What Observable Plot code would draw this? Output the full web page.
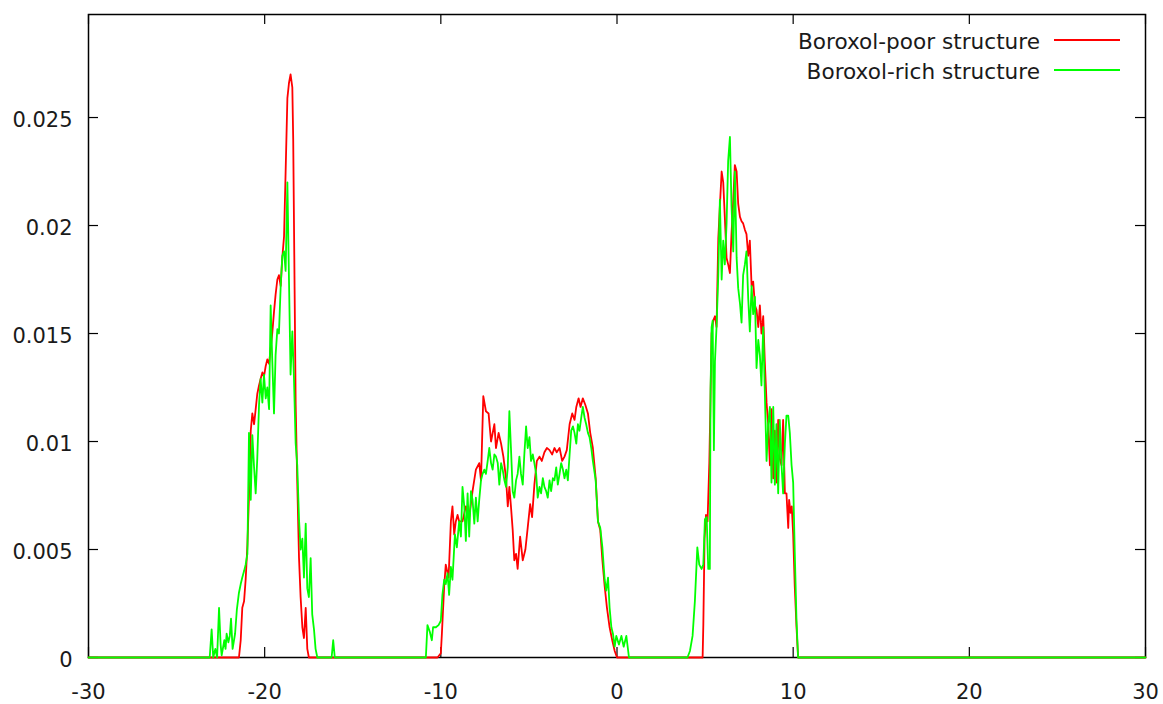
<!DOCTYPE html>
<html>
<head>
<meta charset="utf-8">
<script src="https://cdn.jsdelivr.net/npm/d3@7"></script>
<script src="https://cdn.jsdelivr.net/npm/@observablehq/plot@0.6"></script>
<style>
  html, body { margin: 0; padding: 0; background: #ffffff; }
  #chart svg { display: block; }
</style>
</head>
<body>
<div id="chart"></div>
<script>
// Axis ticks and labels
const xTicks = [-30, -20, -10, 0, 10, 20, 30];
const yTicks = [0, 0.005, 0.01, 0.015, 0.02, 0.025];
const yTickLabels = ["0", "0.005", "0.01", "0.015", "0.02", "0.025"];

// Series names (legend order)
const seriesNames = ["Boroxol-poor structure", "Boroxol-rich structure"];
const seriesColors = ["#ff0000", "#00ff00"];

// Boroxol-poor structure: [x, density] per band
const poorLeft = [
  [-21.46, 0], [-21.36, 0.0008], [-21.27, 0.0023], [-21.17, 0.0026], [-21.08, 0.0036],
  [-20.98, 0.0052], [-20.89, 0.0075], [-20.79, 0.0105], [-20.70, 0.0113], [-20.60, 0.0108],
  [-20.51, 0.0115], [-20.42, 0.0122], [-20.32, 0.0126], [-20.23, 0.0129], [-20.13, 0.0132],
  [-20.04, 0.0130], [-19.94, 0.0135], [-19.85, 0.0138], [-19.75, 0.0136], [-19.66, 0.0143],
  [-19.57, 0.0150], [-19.47, 0.0160], [-19.38, 0.0168], [-19.28, 0.0175], [-19.19, 0.0177],
  [-19.09, 0.0172], [-19.00, 0.0185], [-18.90, 0.0195], [-18.81, 0.0225], [-18.71, 0.0259],
  [-18.62, 0.0266], [-18.53, 0.0270], [-18.43, 0.0264], [-18.38, 0.0240], [-18.30, 0.0170],
  [-18.24, 0.0117], [-18.15, 0.0081], [-18.05, 0.0046], [-17.96, 0.0028], [-17.86, 0.0014],
  [-17.77, 0.0009], [-17.67, 0.0023], [-17.58, 0.0004], [-17.49, 0]
];
const poorMiddle = [
  [-10.19, 0], [-10.00, 0.0002], [-9.94, 0.0011], [-9.81, 0.0033], [-9.72, 0.0043],
  [-9.56, 0.0037], [-9.43, 0.0063], [-9.34, 0.0070], [-9.24, 0.0057], [-9.15, 0.0063],
  [-9.05, 0.0066], [-8.96, 0.0063], [-8.77, 0.0063], [-8.58, 0.0070], [-8.39, 0.0065],
  [-8.20, 0.0077], [-8.01, 0.0087], [-7.82, 0.0090], [-7.72, 0.0082], [-7.59, 0.0121],
  [-7.44, 0.0114], [-7.29, 0.0113], [-7.15, 0.0100], [-6.96, 0.0108], [-6.87, 0.0097],
  [-6.72, 0.0104], [-6.58, 0.0099], [-6.45, 0.0093], [-6.30, 0.0083], [-6.20, 0.0070],
  [-6.11, 0.0079], [-6.02, 0.0070], [-5.92, 0.0059], [-5.83, 0.0045], [-5.73, 0.0048],
  [-5.64, 0.0041], [-5.50, 0.0056], [-5.35, 0.0045], [-5.20, 0.0050], [-5.07, 0.0060],
  [-4.93, 0.0071], [-4.82, 0.0065], [-4.69, 0.0080], [-4.55, 0.0091], [-4.40, 0.0093],
  [-4.27, 0.0091], [-4.12, 0.0095], [-3.98, 0.0097], [-3.83, 0.0096], [-3.68, 0.0094],
  [-3.55, 0.0097], [-3.42, 0.0095], [-3.26, 0.0097], [-3.11, 0.0091], [-2.98, 0.0093],
  [-2.85, 0.0096], [-2.69, 0.0108], [-2.54, 0.0113], [-2.41, 0.0110], [-2.31, 0.0116],
  [-2.18, 0.0120], [-2.07, 0.0116], [-1.94, 0.0120], [-1.80, 0.0117], [-1.65, 0.0113],
  [-1.52, 0.0104], [-1.37, 0.0097], [-1.21, 0.0083], [-1.08, 0.0063], [-0.95, 0.0059],
  [-0.83, 0.0045], [-0.70, 0.0033], [-0.57, 0.0023], [-0.42, 0.0014], [-0.27, 0.0008],
  [-0.13, 0.0003], [0.00, 0]
];
const poorRight = [
  [4.86, 0], [4.90, 0.0015], [4.97, 0.0055], [5.05, 0.0066], [5.14, 0.0063],
  [5.24, 0.0090], [5.31, 0.0121], [5.37, 0.0150], [5.46, 0.0156], [5.56, 0.0158],
  [5.65, 0.0153], [5.75, 0.0194], [5.84, 0.0209], [5.94, 0.0225], [6.03, 0.0220],
  [6.12, 0.0204], [6.22, 0.0185], [6.31, 0.0182], [6.41, 0.0178], [6.50, 0.0196],
  [6.60, 0.0212], [6.69, 0.0228], [6.79, 0.0225], [6.88, 0.0210], [6.98, 0.0204],
  [7.07, 0.0202], [7.16, 0.0201], [7.26, 0.0198], [7.35, 0.0196], [7.45, 0.0186],
  [7.54, 0.0193], [7.64, 0.0172], [7.73, 0.0174], [7.83, 0.0163], [7.92, 0.0161],
  [8.02, 0.0153], [8.11, 0.0163], [8.20, 0.0150], [8.30, 0.0158], [8.39, 0.0137],
  [8.49, 0.0118], [8.58, 0.0108], [8.68, 0.0089], [8.77, 0.0115], [8.87, 0.0083],
  [8.96, 0.0105], [9.05, 0.0081], [9.15, 0.0110], [9.24, 0.0092], [9.34, 0.0089],
  [9.43, 0.0110], [9.53, 0.0076], [9.62, 0.0076], [9.72, 0.0060], [9.77, 0.0073],
  [9.85, 0.0067], [9.92, 0.0070], [10.00, 0.0057], [10.09, 0.0033], [10.19, 0.0014],
  [10.28, 0]
];

// Boroxol-rich structure: [x, density] per band
const richLeft = [
  [-23.12, 0], [-23.01, 0.0013], [-22.92, 0], [-22.80, 0.0004], [-22.70, 0],
  [-22.59, 0.0023], [-22.50, 0.0006], [-22.44, 0.0001], [-22.29, 0.0008], [-22.22, 0.0004],
  [-22.16, 0.0011], [-22.06, 0.0007], [-21.98, 0.0010], [-21.91, 0.0018], [-21.82, 0.0004],
  [-21.68, 0.0011], [-21.58, 0.0022], [-21.46, 0.0030], [-21.36, 0.0034], [-21.27, 0.0037],
  [-21.17, 0.0040], [-21.08, 0.0043], [-20.98, 0.0048], [-20.89, 0.0104], [-20.79, 0.0073],
  [-20.70, 0.0103], [-20.60, 0.0088], [-20.51, 0.0076], [-20.42, 0.0092], [-20.32, 0.0117],
  [-20.23, 0.0129], [-20.13, 0.0118], [-20.04, 0.0131], [-19.94, 0.0120], [-19.85, 0.0125],
  [-19.75, 0.0115], [-19.66, 0.0163], [-19.57, 0.0138], [-19.47, 0.0113], [-19.38, 0.0140],
  [-19.28, 0.0152], [-19.19, 0.0150], [-19.09, 0.0172], [-19.00, 0.0186], [-18.90, 0.0188],
  [-18.81, 0.0179], [-18.71, 0.0220], [-18.62, 0.0175], [-18.53, 0.0131], [-18.43, 0.0151],
  [-18.34, 0.0130], [-18.24, 0.0099], [-18.15, 0.0089], [-18.05, 0.0064], [-17.96, 0.0050],
  [-17.86, 0.0055], [-17.77, 0.0037], [-17.67, 0.0062], [-17.58, 0.0032], [-17.49, 0.0028],
  [-17.39, 0.0046], [-17.30, 0.0020], [-17.20, 0.0013], [-17.11, 0.0004], [-17.01, 0],
  [-16.20, 0], [-16.11, 0.0008], [-16.02, 0]
];
const richMiddle = [
  [-10.85, 0], [-10.76, 0.0015], [-10.63, 0.0012], [-10.51, 0.0008], [-10.44, 0.0014],
  [-10.28, 0.0014], [-10.13, 0.0015], [-10.00, 0.0017], [-9.91, 0.0029], [-9.81, 0.0036],
  [-9.72, 0.0034], [-9.62, 0.0039], [-9.53, 0.0029], [-9.43, 0.0042], [-9.34, 0.0036],
  [-9.20, 0.0057], [-9.09, 0.0051], [-8.96, 0.0063], [-8.86, 0.0056], [-8.77, 0.0079],
  [-8.67, 0.0070], [-8.58, 0.0054], [-8.48, 0.0076], [-8.39, 0.0056], [-8.29, 0.0077],
  [-8.20, 0.0073], [-8.10, 0.0062], [-8.01, 0.0074], [-7.91, 0.0063], [-7.82, 0.0073],
  [-7.72, 0.0082], [-7.63, 0.0085], [-7.53, 0.0087], [-7.44, 0.0085], [-7.34, 0.0091],
  [-7.25, 0.0097], [-7.15, 0.0090], [-7.06, 0.0087], [-6.96, 0.0094], [-6.87, 0.0093],
  [-6.77, 0.0090], [-6.68, 0.0080], [-6.58, 0.0090], [-6.49, 0.0087], [-6.39, 0.0082],
  [-6.30, 0.0079], [-6.20, 0.0088], [-6.11, 0.0114], [-6.02, 0.0097], [-5.92, 0.0077],
  [-5.83, 0.0074], [-5.73, 0.0082], [-5.64, 0.0085], [-5.54, 0.0093], [-5.45, 0.0085],
  [-5.35, 0.0080], [-5.26, 0.0094], [-5.16, 0.0107], [-5.07, 0.0097], [-4.97, 0.0102],
  [-4.88, 0.0091], [-4.78, 0.0094], [-4.69, 0.0090], [-4.59, 0.0085], [-4.50, 0.0074],
  [-4.40, 0.0079], [-4.31, 0.0076], [-4.21, 0.0083], [-4.12, 0.0079], [-4.02, 0.0077],
  [-3.93, 0.0074], [-3.83, 0.0082], [-3.74, 0.0077], [-3.64, 0.0083], [-3.55, 0.0082],
  [-3.45, 0.0088], [-3.36, 0.0080], [-3.26, 0.0085], [-3.17, 0.0090], [-3.07, 0.0087],
  [-2.98, 0.0083], [-2.88, 0.0087], [-2.79, 0.0082], [-2.69, 0.0094], [-2.60, 0.0105],
  [-2.50, 0.0107], [-2.41, 0.0104], [-2.31, 0.0099], [-2.22, 0.0108], [-2.13, 0.0105],
  [-2.03, 0.0111], [-1.94, 0.0116], [-1.84, 0.0111], [-1.75, 0.0108], [-1.65, 0.0104],
  [-1.56, 0.0102], [-1.46, 0.0097], [-1.37, 0.0091], [-1.21, 0.0082], [-1.08, 0.0063],
  [-0.95, 0.0060], [-0.83, 0.0051], [-0.70, 0.0036], [-0.61, 0.0031], [-0.51, 0.0037],
  [-0.42, 0.0023], [-0.32, 0.0014], [-0.23, 0.0011], [-0.13, 0.0005], [-0.04, 0.0010],
  [0.11, 0.0006], [0.25, 0.0010], [0.38, 0.0005], [0.53, 0.0010], [0.68, 0]
];
const richRight = [
  [4.00, 0], [4.14, 0.0003], [4.29, 0.0010], [4.42, 0.0026], [4.56, 0.0051],
  [4.67, 0.0043], [4.80, 0.0041], [4.90, 0.0043], [4.99, 0.0064], [5.09, 0.0065],
  [5.18, 0.0041], [5.27, 0.0041], [5.31, 0.0124], [5.37, 0.0153], [5.43, 0.0156],
  [5.50, 0.0096], [5.56, 0.0137], [5.65, 0.0153], [5.75, 0.0177], [5.84, 0.0212],
  [5.94, 0.0175], [6.03, 0.0193], [6.12, 0.0182], [6.22, 0.0201], [6.31, 0.0230],
  [6.41, 0.0241], [6.50, 0.0209], [6.60, 0.0188], [6.69, 0.0225], [6.79, 0.0185],
  [6.88, 0.0171], [6.98, 0.0164], [7.07, 0.0155], [7.16, 0.0177], [7.26, 0.0182],
  [7.35, 0.0188], [7.45, 0.0166], [7.54, 0.0151], [7.64, 0.0172], [7.73, 0.0159],
  [7.83, 0.0167], [7.92, 0.0134], [8.02, 0.0147], [8.11, 0.0140], [8.20, 0.0126],
  [8.30, 0.0153], [8.39, 0.0123], [8.49, 0.0091], [8.58, 0.0108], [8.68, 0.0116],
  [8.77, 0.0081], [8.87, 0.0116], [8.96, 0.0080], [9.05, 0.0108], [9.15, 0.0076],
  [9.24, 0.0110], [9.34, 0.0089], [9.43, 0.0076], [9.53, 0.0099], [9.62, 0.0112],
  [9.72, 0.0112], [9.81, 0.0104], [9.91, 0.0089], [10.00, 0.0081], [10.09, 0.0049],
  [10.19, 0.0017], [10.28, 0]
];

// Full curves over the whole x range, zero outside the bands
const toRows = (parts) =>
  [[xTicks[0], 0], ...parts.flat(), [xTicks[xTicks.length - 1], 0]].map(([x, y]) => ({x, y}));
const poor = toRows([poorLeft, poorMiddle, poorRight]);
const rich = toRows([richLeft, richMiddle, richRight]);

// Layout
const W = 1163, H = 704;
const mL = 88, mR = 18, mT = 14, mB = 47;
const frameW = W - mL - mR, frameH = H - mT - mB;
const tickLen = 10;
const font = "DejaVu Sans, Liberation Sans, sans-serif";
const ink = "#1a1a1a";

const chart = Plot.plot({
  width: W,
  height: H,
  marginLeft: mL,
  marginRight: mR,
  marginTop: mT,
  marginBottom: mB,
  style: {fontFamily: font, fontSize: "21px", color: ink, background: "#ffffff"},
  x: {domain: [-30, 30], label: null},
  y: {domain: [0, 0.02977], label: null},
  marks: [
    Plot.axisX(xTicks, {tickSize: 0, tickPadding: 27, fontSize: 21, label: null,
      tickFormat: (d) => String(d)}),
    Plot.axisY(yTicks, {tickSize: 0, tickPadding: 16, fontSize: 21, dy: 3, label: null,
      tickFormat: (d) => yTickLabels[yTicks.indexOf(d)]}),
    // inward ticks on all four sides
    Plot.ruleX(xTicks, {x: (d) => d, insetTop: frameH - tickLen, stroke: "black", strokeWidth: 1.2}),
    Plot.ruleX(xTicks, {x: (d) => d, insetBottom: frameH - tickLen, stroke: "black", strokeWidth: 1.2}),
    Plot.ruleY(yTicks, {y: (d) => d, insetRight: frameW - tickLen, stroke: "black", strokeWidth: 1.2}),
    Plot.ruleY(yTicks, {y: (d) => d, insetLeft: frameW - tickLen, stroke: "black", strokeWidth: 1.2}),
    Plot.frame({stroke: "black", strokeWidth: 1.5}),
    Plot.line(poor, {x: "x", y: "y", stroke: seriesColors[0], strokeWidth: 1.8}),
    Plot.line(rich, {x: "x", y: "y", stroke: seriesColors[1], strokeWidth: 1.8})
  ]
});

document.getElementById("chart").append(chart);

// Key in the upper right corner of the plot area
const svg = d3.select(chart);
const key = svg.append("g")
  .attr("font-family", font)
  .attr("font-size", 21.6)
  .attr("fill", ink);
seriesNames.forEach((name, i) => {
  const cy = 40 + i * 30;
  key.append("text")
    .attr("x", 1040)
    .attr("y", cy + 9)
    .attr("text-anchor", "end")
    .text(name);
  key.append("line")
    .attr("x1", 1054).attr("x2", 1120)
    .attr("y1", cy).attr("y2", cy)
    .attr("stroke", seriesColors[i])
    .attr("stroke-width", 2);
});
</script>
</body>
</html>
